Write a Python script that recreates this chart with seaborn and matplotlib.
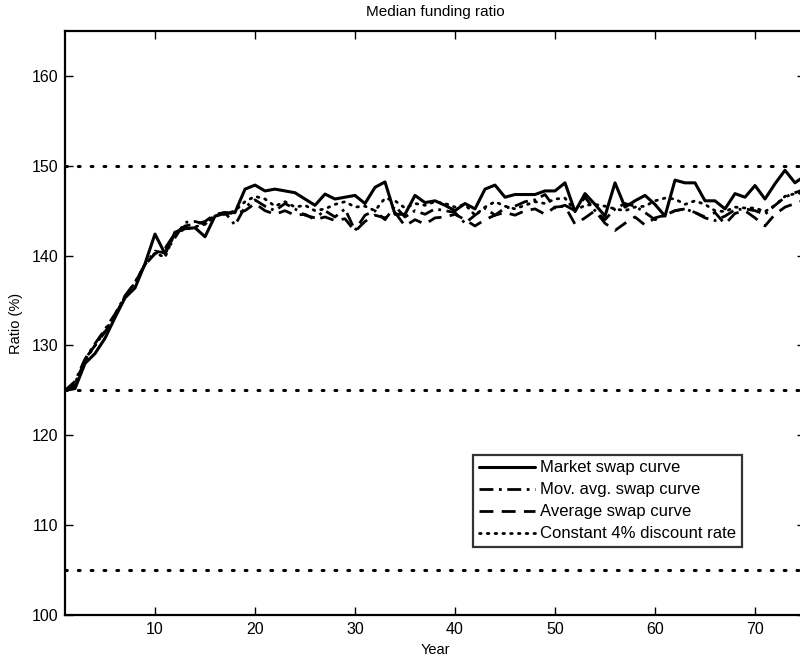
import numpy as np
import pandas as pd
import matplotlib
matplotlib.use("Agg")
import matplotlib.pyplot as plt
import seaborn as sns

# Median funding ratio per year
years = list(range(1, 76))

market_swap = [
    125.0, 125.2, 128.0, 129.1, 130.8, 133.1, 135.3, 136.4, 139.1, 142.4,
    140.2, 142.6, 143.0, 143.1, 142.1, 144.4, 144.7, 144.8, 147.4, 147.85,
    147.2, 147.4, 147.2, 147.0, 146.3, 145.6, 146.85, 146.3, 146.5, 146.7,
    145.8, 147.6, 148.2, 144.6, 144.6, 146.7, 145.9, 146.1, 145.6, 145.0,
    145.8, 145.2, 147.4, 147.85, 146.5, 146.8, 146.8, 146.8, 147.2, 147.2,
    148.1, 144.9, 146.9, 145.7, 144.4, 148.1, 145.4, 146.1, 146.7, 145.7,
    144.4, 148.4, 148.1, 148.1, 146.1, 146.1, 145.2, 146.9, 146.5, 147.8,
    146.3, 148.0, 149.5, 148.1, 148.9,
]

mov_avg_swap = [
    125.0, 126.0, 128.5, 130.2, 131.8, 133.5, 135.5, 137.0, 139.0, 140.5,
    140.3, 142.0, 143.7, 143.8, 143.5, 144.5, 144.8, 143.4, 145.4, 146.2,
    145.5, 145.0, 145.8, 145.2, 144.5, 144.2, 145.0, 144.3, 145.2, 142.8,
    144.5, 145.0, 144.0, 145.5, 144.3, 145.0, 144.6, 145.2, 145.0, 144.8,
    143.6, 144.5, 145.3, 144.5, 145.3, 145.5, 146.0, 146.2, 146.8, 145.3,
    145.6, 145.0, 146.5, 145.0, 144.0, 145.2, 145.8, 145.5, 144.8, 144.0,
    144.5, 145.0, 145.2, 144.8, 144.2, 143.9, 144.4, 145.1, 145.2, 145.0,
    144.6, 145.6, 146.5, 147.0, 147.4,
]

average_swap = [
    125.0, 125.5, 128.5, 130.0, 131.5, 133.3, 135.5, 137.0, 139.0, 140.2,
    140.8, 142.5, 143.3, 143.5, 143.8, 144.6, 144.8, 144.7, 145.0, 145.8,
    145.0, 144.6, 145.0, 144.5, 144.6, 144.0, 144.3, 143.9, 144.1, 142.7,
    143.8, 144.5, 144.2, 144.8, 143.3, 144.0, 143.5, 144.2, 144.3, 144.6,
    144.0, 143.3, 144.0, 144.5, 144.8, 144.5, 145.0, 145.2, 144.6, 145.4,
    145.5, 143.5, 144.2, 145.0, 143.6, 142.8, 143.6, 144.3, 143.4, 144.2,
    144.5, 145.0, 145.2, 144.8, 144.3, 144.8, 143.5, 144.7, 145.0, 144.2,
    143.3, 144.6, 145.4, 145.8, 146.2,
]

constant_4pct = [
    125.0, 125.8, 128.3, 130.0, 131.6, 133.4, 135.4, 137.0, 139.0, 140.3,
    139.8, 142.6, 142.9, 143.2, 143.5, 144.4, 144.6, 145.0, 146.0, 146.6,
    146.3, 145.5, 146.0, 145.4, 145.6, 145.0, 145.2, 145.7, 146.0, 145.4,
    145.5, 145.0, 146.4, 146.1, 145.3, 145.8, 145.6, 146.0, 145.8, 145.4,
    145.7, 144.5, 145.4, 146.0, 145.5, 145.2, 145.6, 146.0, 145.8, 146.3,
    146.4, 145.0, 145.6, 145.7, 145.5, 145.2, 145.0, 145.4, 145.5, 146.1,
    146.4, 146.3, 145.7, 146.1, 145.7, 145.0, 144.9, 145.4, 145.3, 145.3,
    144.9, 145.6, 146.6, 146.9, 147.0,
]

# horizontal reference levels
ref_levels = [150, 125, 105]

df = pd.DataFrame({
    "Year": years,
    "Market swap curve": market_swap,
    "Mov. avg. swap curve": mov_avg_swap,
    "Average swap curve": average_swap,
    "Constant 4% discount rate": constant_4pct,
})

sns.set_style("white")
plt.rcParams["font.family"] = ["Liberation Sans", "DejaVu Sans"]
plt.rcParams["text.color"] = "black"
plt.rcParams["axes.labelcolor"] = "black"
plt.rcParams["xtick.color"] = "black"
plt.rcParams["ytick.color"] = "black"

fig = plt.figure(figsize=(8.0, 6.61), dpi=100)
ax = fig.add_axes([65 / 800, 46 / 661, 740 / 800, 584 / 661])

for lev in ref_levels:
    ax.axhline(lev, color="black", lw=2.2, linestyle=(0, (0.6, 3.6)),
               dash_capstyle="round", zorder=1)

sns.lineplot(data=df, x="Year", y="Market swap curve", ax=ax, color="black",
             lw=2.2, linestyle="-", label="Market swap curve")
sns.lineplot(data=df, x="Year", y="Mov. avg. swap curve", ax=ax, color="black",
             lw=2.0, linestyle=(0, (5, 2, 1, 2)), label="Mov. avg. swap curve")
sns.lineplot(data=df, x="Year", y="Average swap curve", ax=ax, color="black",
             lw=2.0, linestyle=(0, (5, 3)), label="Average swap curve")
sns.lineplot(data=df, x="Year", y="Constant 4% discount rate", ax=ax,
             color="black", lw=2.0, linestyle=(0, (0.6, 2.2)),
             dash_capstyle="round", label="Constant 4% discount rate")

ax.set_xlim(1, 75)
ax.set_ylim(100, 165)
ax.set_xticks([10, 20, 30, 40, 50, 60, 70])
ax.set_yticks([100, 110, 120, 130, 140, 150, 160])
ax.tick_params(direction="in", length=6, width=1, labelsize=11.5,
               top=True, right=True, bottom=True, left=True, pad=5)
for side in ["left", "bottom", "top"]:
    ax.spines[side].set_color("black")
    ax.spines[side].set_linewidth(1.6)
ax.spines["right"].set_visible(False)

ax.set_xlabel("Year", fontsize=10.5, labelpad=4)
ax.set_ylabel("Ratio (%)", fontsize=10.5, labelpad=6)
ax.set_title("Median funding ratio", fontsize=11, pad=11)

leg = ax.legend(loc="lower left", bbox_to_anchor=(0.551, 0.116), fontsize=12,
                frameon=True, fancybox=False, handlelength=3.4,
                handletextpad=0.3, borderpad=0.35, labelspacing=0.42,
                borderaxespad=0)
leg.get_frame().set_edgecolor("black")
leg.get_frame().set_linewidth(1.6)

plt.savefig("out.png", dpi=100)
plt.close()
